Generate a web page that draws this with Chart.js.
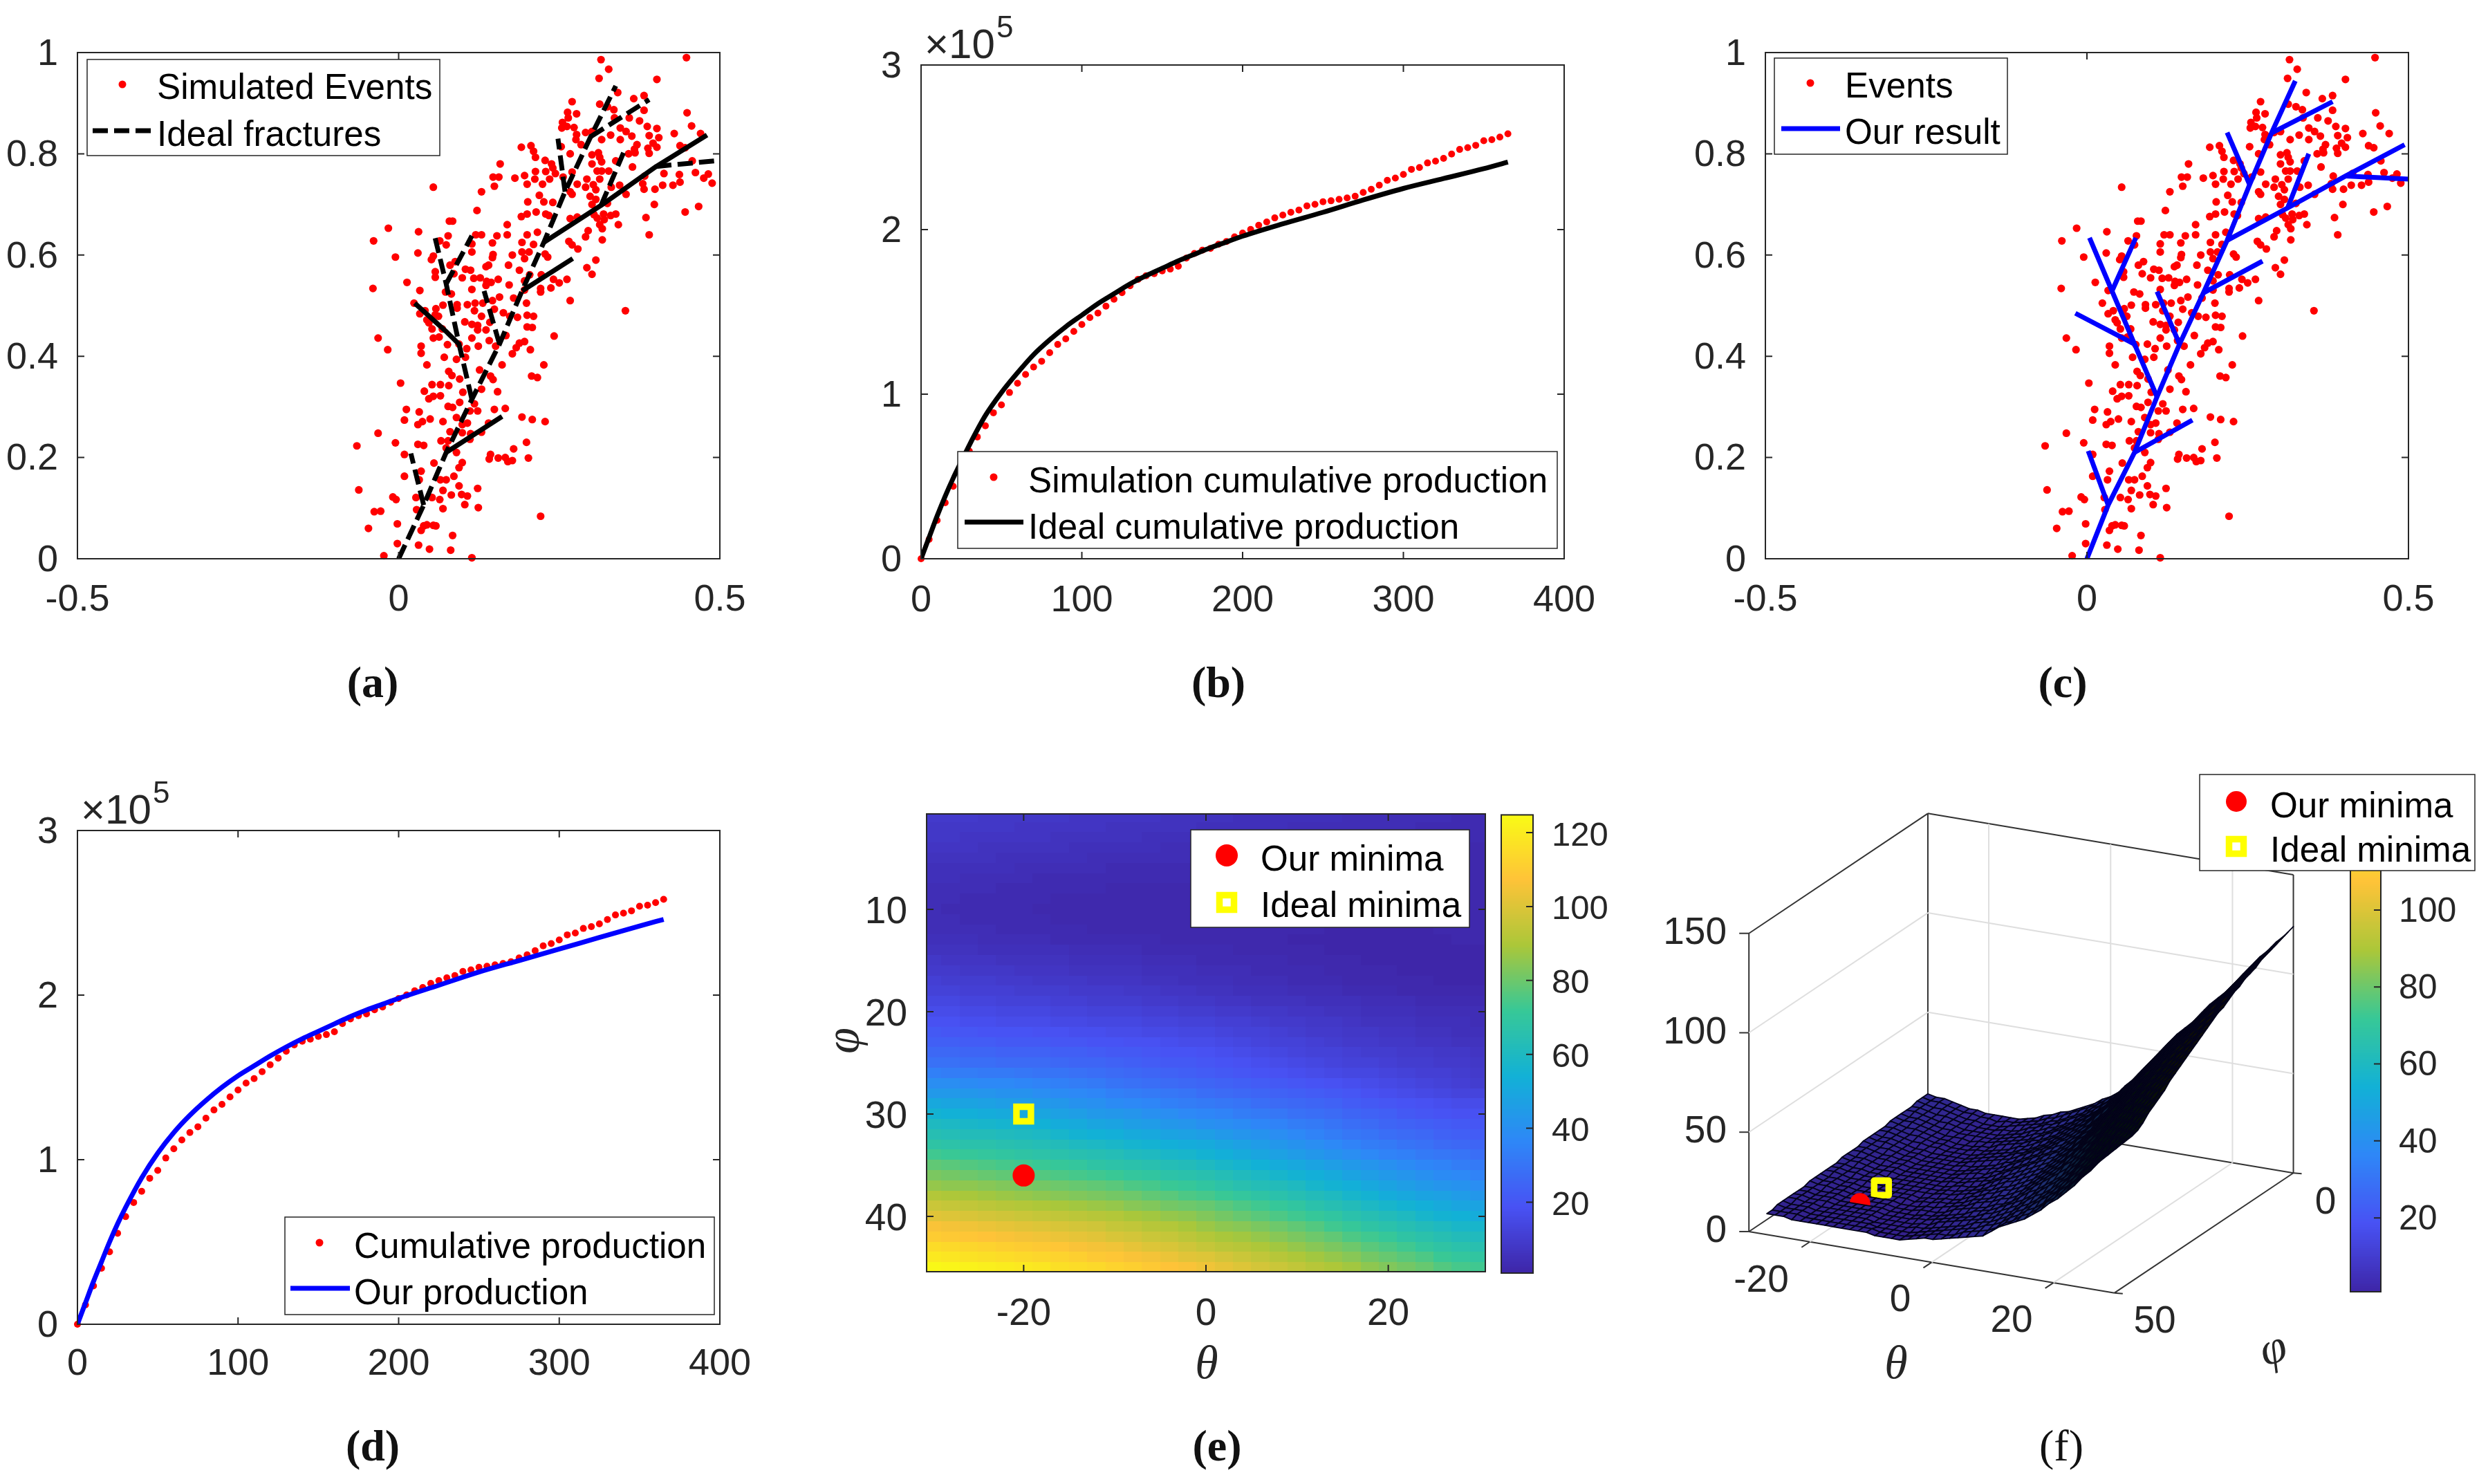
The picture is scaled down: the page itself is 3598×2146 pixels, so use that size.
<!DOCTYPE html>
<html><head><meta charset="utf-8">
<style>html,body{margin:0;padding:0;background:#fff;width:3598px;height:2146px;overflow:hidden}
canvas{position:absolute;pointer-events:none}
.cap{position:absolute;font-family:"Liberation Serif",serif;font-size:64px;font-weight:bold;color:#111;transform:translate(-50%,-50%);white-space:nowrap}</style>
<script src="https://cdn.jsdelivr.net/npm/chart.js@4"></script>
</head><body>
<script>
// ---------- data ----------
const events=[[.315,.986],[.448,.99],[.327,.967],[.312,.949],[.402,.947],[.382,.915],[.366,.909],[.341,.921],[.27,.903],[.313,.898],[.325,.893],[.335,.887],[.382,.886],[.263,.882],[.277,.879],[.449,.881],[.336,.871],[.359,.871],[.375,.865],[.255,.862],[.254,.851],[.264,.871],[.262,.854],[.273,.852],[.456,.855],[.387,.854],[.345,.851],[.402,.85],[.354,.844],[.291,.842],[.301,.844],[.429,.84],[.47,.84],[.277,.838],[.39,.836],[.33,.837],[.363,.835],[.405,.832],[.316,.828],[.276,.828],[.345,.828],[.284,.818],[.396,.821],[.438,.816],[.371,.818],[.191,.813],[.206,.816],[.446,.812],[.402,.813],[.388,.811],[.367,.809],[.253,.814],[.21,.805],[.213,.793],[.267,.8],[.301,.798],[.311,.802],[.358,.8],[.368,.802],[.39,.801],[.313,.793],[.338,.786],[.316,.784],[.228,.787],[.238,.78],[.457,.786],[.158,.78],[.24,.772],[.27,.764],[.301,.78],[.364,.774],[.327,.766],[.316,.766],[.309,.766],[.196,.757],[.213,.765],[.229,.765],[.244,.761],[.181,.752],[.147,.754],[.156,.754],[.235,.75],[.256,.754],[.212,.75],[.293,.75],[.313,.75],[.383,.756],[.413,.761],[.437,.759],[.462,.763],[.482,.76],[.475,.752],[.488,.742],[.2,.74],[.224,.74],[.278,.74],[.291,.734],[.303,.739],[.149,.736],[.344,.738],[.411,.738],[.38,.741],[.427,.738],[.438,.744],[.054,.734],[.267,.725],[.307,.729],[.129,.725],[.382,.73],[.399,.73],[.331,.734],[.219,.718],[.27,.72],[.354,.72],[.298,.716],[.201,.705],[.226,.705],[.24,.704],[.307,.71],[.301,.7],[.398,.7],[.467,.696],[.325,.702],[.122,.688],[.214,.685],[.2,.681],[.191,.676],[.229,.681],[.234,.678],[.446,.685],[.267,.672],[.278,.675],[.304,.68],[.319,.681],[.338,.681],[.33,.678],[.309,.673],[.32,.67],[.385,.674],[.169,.66],[.313,.66],[.342,.66],[.079,.667],[.084,.667],[-.016,.653],[.031,.646],[.216,.645],[.2,.64],[.169,.64],[.39,.64],[.12,.64],[.129,.64],[.153,.638],[.317,.652],[.295,.648],[.291,.636],[.317,.63],[-.039,.628],[.064,.628],[.077,.638],[.074,.62],[.114,.622],[.146,.624],[.192,.625],[.21,.621],[.265,.627],[.27,.62],[.279,.612],[.03,.604],[-.005,.596],[.114,.606],[.147,.601],[.192,.606],[.203,.606],[.228,.602],[.054,.598],[.051,.591],[.088,.587],[.08,.58],[.146,.595],[.177,.6],[.196,.593],[.232,.596],[.104,.572],[.112,.57],[.14,.58],[.136,.577],[.171,.58],[.188,.57],[.293,.575],[.307,.59],[.301,.562],[.057,.567],[.057,.556],[.086,.563],[.099,.555],[.117,.554],[.127,.555],[.155,.552],[.204,.561],[.222,.561],[.241,.552],[.262,.552],[.013,.546],[.137,.548],[.144,.546],[.136,.54],[.172,.541],[.196,.549],[.25,.545],[-.04,.534],[.033,.53],[.073,.527],[.082,.523],[.114,.532],[.221,.534],[.221,.527],[.237,.535],[.157,.517],[.179,.515],[.196,.531],[.267,.51],[.024,.505],[.069,.501],[.091,.502],[.107,.502],[.119,.505],[.131,.505],[.146,.51],[.199,.505],[.058,.494],[.091,.495],[.118,.49],[.149,.493],[.163,.486],[.353,.49],[.033,.484],[.041,.49],[.057,.482],[.062,.479],[.129,.479],[.173,.479],[.185,.477],[.2,.481],[.21,.479],[.044,.472],[.047,.466],[.103,.468],[.142,.467],[.114,.463],[.123,.461],[.2,.458],[.208,.457],[.052,.454],[.068,.454],[.123,.452],[.136,.452],[.054,.436],[.063,.438],[.114,.436],[-.032,.436],[.242,.44],[.141,.431],[.167,.441],[.076,.423],[.094,.424],[.035,.42],[.035,.406],[-.017,.413],[.124,.42],[.106,.415],[.196,.429],[.188,.426],[.183,.417],[.177,.405],[.205,.413],[.151,.42],[.104,.398],[.071,.398],[.09,.394],[.044,.383],[.226,.383],[.161,.383],[.126,.373],[.078,.37],[.083,.362],[.003,.347],[.095,.355],[.143,.361],[.147,.354],[.207,.361],[.216,.358],[.052,.344],[.065,.344],[.078,.342],[.1,.329],[.129,.335],[.04,.331],[.154,.33],[.054,.321],[.065,.322],[.047,.316],[.095,.309],[.118,.306],[.012,.295],[.077,.301],[.084,.299],[.111,.292],[.149,.295],[.166,.297],[.123,.292],[.032,.29],[.192,.28],[.208,.275],[.228,.271],[.009,.274],[.037,.271],[.049,.276],[.069,.271],[.09,.279],[.03,.265],[.099,.265],[.107,.268],[.14,.268],[.08,.251],[.129,.25],[.099,.249],[.112,.247],[-.032,.248],[.111,.236],[.066,.233],[.077,.233],[-.005,.229],[.03,.226],[.039,.224],[-.065,.223],[.074,.219],[.09,.21],[.143,.206],[.009,.206],[.141,.197],[.155,.199],[.166,.2],[.179,.217],[.199,.23],[.202,.199],[.177,.194],[.17,.192],[.099,.19],[.055,.189],[.094,.18],[.035,.173],[.086,.163],[.009,.163],[.032,.156],[.065,.156],[.074,.156],[.094,.144],[.123,.139],[-.062,.136],[.069,.135],[.082,.126],[.098,.127],[.107,.124],[.052,.121],[-.009,.122],[-.004,.117],[.027,.121],[.064,.117],[.103,.107],[.124,.101],[.069,.099],[-.038,.093],[-.028,.094],[.028,.097],[.221,.084],[-.002,.069],[.054,.066],[.058,.065],[.044,.067],[.039,.065],[-.047,.06],[.035,.056],[.084,.046],[-.002,.03],[.031,.027],[.048,.019],[.081,.017],[-.023,.006],[.114,.002]];
const idealDashed=[
 [[0,0],[.039,.106],[.074,.21],[.114,.315],[.157,.424],[.192,.529],[.226,.625],[.259,.725],[.299,.834],[.338,.934]],
 [[.039,.106],[.019,.208]],
 [[.114,.315],[.094,.424],[.074,.543],[.055,.643]],
 [[.074,.543],[.114,.638]],
 [[.157,.424],[.133,.529]],
 [[.315,.698],[.35,.802]],
 [[.401,.775],[.5,.787]],
 [[.259,.725],[.248,.83]],
 [[.299,.834],[.39,.907]]];
const idealSolid=[
 [[.074,.21],[.161,.281]],
 [[.094,.424],[.073,.45],[.025,.505]],
 [[.192,.529],[.271,.593]],
 [[.226,.625],[.315,.698],[.401,.775],[.48,.837]]];
const resultLines=[
 [[0,0],[.033,.106],[.074,.21],[.109,.32],[.144,.424],[.181,.525],[.218,.629],[.253,.739],[.287,.841],[.324,.944]],
 [[.033,.106],[.002,.213]],
 [[.074,.21],[.164,.274]],
 [[.109,.32],[.074,.424],[.039,.529],[.004,.634]],
 [[.074,.424],[-.018,.485]],
 [[.039,.529],[.076,.634]],
 [[.144,.424],[.109,.528]],
 [[.181,.525],[.273,.588]],
 [[.218,.629],[.312,.693],[.402,.756],[.494,.818]],
 [[.312,.693],[.345,.8]],
 [[.402,.756],[.5,.75]],
 [[.253,.739],[.218,.842]],
 [[.287,.841],[.382,.903]]];
const days=[0,5,10,15,20,25,30,35,40,45,50,55,60,65,70,75,80,85,90,95,100,105,110,115,120,125,130,135,140,145,150,155,160,165,170,175,180,185,190,195,200,205,210,215,220,225,230,235,240,245,250,255,260,265,270,275,280,285,290,295,300,305,310,315,320,325,330,335,340,345,350,355,360,365];
const simulated=[0,.118,.233,.34,.44,.553,.654,.74,.808,.887,.935,1.01,1.066,1.12,1.165,1.2,1.252,1.302,1.336,1.381,1.423,1.465,1.493,1.535,1.577,1.617,1.659,1.698,1.72,1.732,1.749,1.76,1.777,1.827,1.855,1.875,1.886,1.911,1.928,1.956,1.979,2.001,2.026,2.046,2.071,2.088,2.105,2.119,2.144,2.153,2.169,2.175,2.184,2.192,2.203,2.226,2.245,2.27,2.299,2.313,2.335,2.366,2.377,2.405,2.416,2.433,2.459,2.487,2.498,2.512,2.54,2.546,2.562,2.582];
const curveDays=[0,5,10,15,20,25,30,40,50,60,70,80,90,100,110,120,130,140,150,160,170,180,190,200,225,250,275,300,325,350,365];
const idealCurve=[0,.13,.26,.38,.49,.59,.69,.87,1.01,1.13,1.24,1.33,1.41,1.48,1.55,1.61,1.67,1.72,1.765,1.81,1.85,1.89,1.925,1.96,2.035,2.105,2.18,2.25,2.31,2.37,2.41];
const ourCurve=[0,.13,.26,.38,.5,.61,.71,.89,1.04,1.165,1.27,1.36,1.44,1.51,1.57,1.63,1.685,1.735,1.78,1.825,1.87,1.91,1.945,1.98,2.06,2.14,2.21,2.28,2.35,2.42,2.46];
const thetaCols=[-30,-28,-26,-24,-22,-20,-18,-16,-14,-12,-10,-8,-6,-4,-2,0,2,4,6,8,10,12,14,16,18,20,22,24,26,28,30];
const phiRows=[1,2,3,4,5,6,7,8,9,10,11,12,13,14,15,16,17,18,19,20,21,22,23,24,25,26,27,28,29,30,31,32,33,34,35,36,37,38,39,40,41,42,43,44,45];
const loss=[
[9,9,9,8,8,8,8,8,7,7,7,7,7,6,6,6,6,5,5,5,5,5,5,4,4,4,4,4,4,3,3],
[8,8,8,8,8,7,7,7,7,7,6,6,6,6,6,5,5,5,5,5,4,4,4,4,4,4,4,3,3,3,3],
[8,8,7,7,7,7,7,6,6,6,6,6,5,5,5,5,5,4,4,4,4,4,4,3,3,3,3,3,3,3,3],
[7,7,7,6,6,6,6,6,5,5,5,5,5,4,4,4,4,4,4,3,3,3,3,3,3,3,3,3,3,3,2],
[6,6,6,6,5,5,5,5,5,4,4,4,4,4,4,3,3,3,3,3,3,3,3,3,3,3,2,2,2,2,2],
[5,5,5,5,5,4,4,4,4,4,3,3,3,3,3,3,3,3,3,3,2,2,2,2,2,2,2,2,2,2,2],
[5,5,4,4,4,4,3,3,3,3,3,3,3,3,3,3,3,2,2,2,2,2,2,2,2,2,2,2,2,2,2],
[4,4,4,4,3,3,3,3,3,3,2,2,2,2,2,2,2,2,2,2,2,2,2,2,2,2,2,2,2,2,2],
[4,4,3,3,3,3,3,2,2,2,2,2,2,2,2,2,2,2,2,2,2,2,2,2,2,2,2,2,2,2,2],
[4,3,3,3,3,3,2,2,2,2,2,2,2,2,2,2,2,2,2,2,2,2,2,2,2,2,2,2,2,2,2],
[4,4,3,3,3,3,3,2,2,2,2,2,2,2,2,2,2,2,2,2,2,2,2,2,2,2,2,2,2,2,2],
[4,4,4,4,3,3,3,3,3,2,2,2,2,2,2,2,2,2,2,2,2,2,1,1,1,1,1,1,2,2,2],
[5,5,5,4,4,4,4,3,3,3,3,3,3,2,2,2,2,2,2,2,1,1,1,1,1,1,1,1,1,2,2],
[6,6,6,5,5,5,5,5,4,4,4,4,3,3,3,3,3,2,2,2,2,2,1,1,1,1,1,1,1,1,1],
[8,7,7,7,6,6,6,6,5,5,5,5,4,4,4,3,3,3,3,3,2,2,2,2,1,1,1,1,1,1,1],
[9,9,8,8,8,7,7,7,6,6,6,6,5,5,5,4,4,4,3,3,3,3,2,2,2,2,1,1,1,1,1],
[11,10,10,10,9,9,8,8,8,7,7,7,6,6,5,5,5,4,4,4,3,3,3,2,2,2,2,2,1,1,1],
[12,12,11,11,11,10,10,10,9,9,9,8,8,7,7,6,6,5,5,5,4,4,4,3,3,3,2,2,2,2,2],
[14,14,13,13,12,12,12,11,11,10,10,10,9,9,8,8,7,7,6,6,6,5,5,5,4,4,4,3,3,3,3],
[16,16,15,15,14,14,14,13,13,12,12,12,11,11,10,10,9,9,8,8,7,7,6,6,5,5,5,4,4,4,4],
[18,18,17,17,16,16,16,15,15,14,14,14,13,13,12,12,11,11,10,9,9,8,8,7,6,6,6,5,5,5,4],
[21,20,20,19,19,19,18,18,17,17,16,16,15,15,14,14,13,12,12,11,10,9,9,8,8,7,7,6,6,5,5],
[23,23,22,22,21,21,21,20,20,19,19,18,18,17,16,16,15,14,13,12,12,11,10,9,9,8,8,7,7,6,6],
[26,26,25,25,24,24,24,23,23,22,21,21,20,19,19,18,17,16,15,14,13,12,12,11,10,10,9,9,8,8,7],
[29,29,28,28,27,27,27,26,25,25,24,23,22,21,21,20,19,18,17,16,15,14,13,12,12,11,10,10,9,9,8],
[34,33,33,32,32,31,30,30,29,28,27,26,25,24,23,22,21,20,19,18,17,16,15,14,14,13,12,11,11,10,9],
[39,39,38,37,37,36,35,34,33,32,30,29,28,27,26,25,24,23,22,21,20,19,18,17,16,15,14,13,12,11,10],
[44,44,43,42,41,41,39,38,37,36,34,33,32,31,30,28,27,26,25,24,23,22,21,20,18,17,16,15,14,13,13],
[50,49,48,47,46,45,44,43,41,40,38,37,36,34,33,32,31,30,28,27,26,25,24,22,21,20,19,18,17,16,16],
[55,54,53,52,51,50,49,47,46,44,43,42,40,39,37,36,35,33,32,31,29,28,27,25,24,23,21,20,19,18,18],
[60,59,58,57,56,55,54,52,51,49,48,46,45,43,42,40,39,38,36,35,33,32,30,28,27,25,24,23,22,21,20],
[64,63,62,62,61,60,59,57,55,54,53,51,50,48,47,46,44,42,41,39,37,35,33,31,30,28,27,26,24,23,22],
[68,67,66,66,65,64,63,62,60,59,58,56,55,53,52,51,49,47,45,43,41,39,37,35,33,32,30,29,27,26,25],
[73,72,71,70,69,68,67,66,65,64,63,61,60,58,57,55,53,51,49,47,45,43,41,39,37,35,34,32,31,30,28],
[78,77,76,75,74,73,72,71,70,68,67,66,65,63,62,60,58,56,54,52,50,48,46,44,42,40,38,36,35,33,32],
[82,81,80,79,78,77,76,75,74,73,72,70,69,67,66,65,63,61,59,57,55,53,51,48,46,44,42,40,38,37,35],
[86,85,85,84,83,82,81,80,79,78,77,75,74,72,71,69,67,65,63,62,60,57,55,53,50,48,46,44,42,41,39],
[91,90,89,88,87,86,85,84,83,82,81,80,78,77,75,74,72,70,68,66,64,62,60,57,55,52,50,48,47,45,43],
[96,95,94,93,92,91,90,89,88,87,86,84,83,81,80,79,77,75,73,71,69,66,64,62,59,57,55,53,51,49,48],
[101,100,99,98,97,96,95,94,93,92,91,89,88,86,85,83,81,79,77,75,73,71,69,66,64,62,60,57,55,54,52],
[106,105,104,103,102,101,100,99,98,97,95,94,92,91,89,87,85,84,82,80,78,76,73,71,68,66,64,62,60,58,57],
[110,109,108,107,106,105,104,103,102,101,99,98,96,95,93,91,89,88,86,84,82,80,78,75,73,71,68,66,64,62,61],
[115,114,113,112,111,110,109,108,106,105,104,102,100,99,97,95,93,92,90,88,86,84,82,80,77,75,73,70,68,66,65],
[119,118,117,116,115,114,113,112,111,109,108,106,105,103,101,100,98,96,94,92,90,88,86,84,81,79,77,75,72,70,69],
[124,123,122,121,120,119,118,116,115,114,112,111,109,107,106,104,102,100,98,96,94,92,90,88,85,83,81,79,76,74,73]];
const ourMinima=[-20,36];
const idealMinima=[-20,30];
const colorbarTicks=[20,40,60,80,100,120];
const parulaStops=[[62,38,168],[72,82,244],[46,135,247],[18,177,214],[55,200,151],[171,199,57],[254,195,56],[249,251,21]];

// ---------- helpers ----------
const INK='#262626',SANS='"Liberation Sans",Arial,sans-serif',SERIF='"Liberation Serif",serif';
const CMIN=.8,CMAX=124.8;
function parulaRGB(v){
  const t=Math.min(1,Math.max(0,(v-CMIN)/(CMAX-CMIN)))*(parulaStops.length-1);
  const i=Math.min(parulaStops.length-2,Math.floor(t)),f=t-i,a=parulaStops[i],b=parulaStops[i+1];
  return a.map((c,k)=>c+(b[k]-c)*f);
}
function parula(v,shade){const s=shade===undefined?1:shade;return `rgb(${parulaRGB(v).map(c=>Math.round(c*s)).join(',')})`;}
function axis(position,min,max,ticks,extra={}){
  const horiz=position==='bottom';
  return Object.assign({type:'linear',position,min,max,
    grid:{display:false},border:{display:false},
    ticks:{color:INK,font:{family:SANS,size:extra.size||54},padding:extra.pad!==undefined?extra.pad:(horiz?20:20),labelOffset:horiz?0:(extra.shift!==undefined?extra.shift:3),autoSkip:false,maxRotation:0,minRotation:0,callback:v=>String(v)},
    afterBuildTicks:s=>{s.ticks=ticks.map(value=>({value}));}},extra.reverse?{reverse:true}:{});
}
function pts(arr){return arr.map(p=>({x:p[0],y:p[1]}));}
function polyDatasets(lines,color,width,dash){
  return lines.map(l=>({data:pts(l),showLine:true,pointRadius:0,borderColor:color,borderWidth:width,borderDash:dash||[],tension:0,clip:true,borderCapStyle:'butt',borderJoinStyle:'round'}));
}
function dots(data,r){return {data,showLine:false,pointRadius:r,pointBackgroundColor:'#ff0000',pointBorderWidth:0,clip:false};}
const frame={id:'frame',afterDatasetsDraw(ch,a,o){
  if(!o.on)return;
  const c=ch.ctx,A=ch.chartArea,L=10;c.save();c.strokeStyle=INK;c.lineWidth=2;
  c.strokeRect(A.left,A.top,A.width,A.height);c.beginPath();
  (o.tx||[]).forEach(v=>{const x=ch.scales.x.getPixelForValue(v);c.moveTo(x,A.bottom);c.lineTo(x,A.bottom-L);c.moveTo(x,A.top);c.lineTo(x,A.top+L);});
  (o.ty||[]).forEach(v=>{const y=ch.scales.y.getPixelForValue(v);c.moveTo(A.right,y);c.lineTo(A.right-L,y);if(!o.rightOnly){c.moveTo(A.left,y);c.lineTo(A.left+L,y);}});
  c.stroke();c.restore();
}};
function sample(c,m,x,y){
  if(m.kind==='dot'){c.fillStyle=m.color;c.beginPath();c.arc(x,y,m.r,0,7);c.fill();}
  if(m.kind==='square'){c.strokeStyle=m.color;c.lineWidth=m.w;c.strokeRect(x-m.s/2,y-m.s/2,m.s,m.s);}
  if(m.kind==='line'){c.strokeStyle=m.color;c.lineWidth=m.w;c.setLineDash(m.dash||[]);c.beginPath();c.moveTo(m.x0,y);c.lineTo(m.x1,y);c.stroke();c.setLineDash([]);}
}
const notes={id:'notes',afterDraw(ch,a,o){
  const c=ch.ctx;c.save();c.translate(-ch.$rect.x,-ch.$rect.y);
  if(o.legend){const b=o.legend.box;
    c.fillStyle='#fff';c.fillRect(b[0],b[1],b[2],b[3]);c.strokeStyle=INK;c.lineWidth=1.5;c.strokeRect(b[0],b[1],b[2],b[3]);
    o.legend.items.forEach(it=>{sample(c,it.m,it.mx,it.my);
      c.fillStyle='#000';c.font=`${o.legend.size||51.2}px ${SANS}`;c.textBaseline='middle';c.textAlign='left';c.fillText(it.text,it.tx-2,it.ty+4);});}
  (o.texts||[]).forEach(t=>{c.save();c.translate(t.x,t.y);if(t.rot)c.rotate(t.rot);c.fillStyle=INK;c.font=t.font;c.textAlign=t.align||'center';c.textBaseline=t.base||'middle';c.fillText(t.text,0,0);c.restore();});
  c.restore();
}};
function make(rect,plot,config,plugins){
  const cv=document.createElement('canvas');cv.width=rect.w;cv.height=rect.h;cv.style.left=rect.x+'px';cv.style.top=rect.y+'px';
  cv.style.width=rect.w+'px';cv.style.height=rect.h+'px';document.body.appendChild(cv);
  const pad={left:plot.x0-rect.x,top:plot.y0-rect.y,right:rect.x+rect.w-plot.x1,bottom:rect.y+rect.h-plot.y1};
  Object.values(config.options.scales).forEach(s=>{
    if(s.display===false)return;
    const side=s.position,room=pad[side];pad[side]=0;
    s.afterFit=k=>{if(side==='bottom')k.height=room;else k.width=room;};
  });
  config.options=Object.assign({responsive:false,animation:false,devicePixelRatio:1,events:[],layout:{padding:pad}},config.options);
  const np=config.options.plugins||{};
  config.options.plugins=Object.assign({legend:{display:false},tooltip:{enabled:false},title:{display:false}},np);
  config.plugins=[{id:'rectTag',beforeInit(ch){ch.$rect=rect;}},frame,notes].concat(plugins||[]);
  return new Chart(cv,config);
}
function timesTen(x,y){return [{text:'×10',x,y,font:`60px ${SANS}`,align:'left',base:'alphabetic'},{text:'5',x:x+104,y:y-30,font:`44px ${SANS}`,align:'left',base:'alphabetic'}];}

// ---------- (a) ----------
const unitX=[-.5,0,.5],unitY=[0,.2,.4,.6,.8,1];
make({x:0,y:0,w:1150,h:960},{x0:112,y0:76,x1:1041,y1:808},{type:'scatter',
 data:{datasets:[...polyDatasets(idealSolid,'#000',7),...polyDatasets(idealDashed,'#000',7,[22,9]),dots(pts(events),5.6)]},
 options:{scales:{x:axis('bottom',-.5,.5,unitX),y:axis('left',0,1,unitY)},
 plugins:{frame:{on:true,tx:unitX,ty:unitY},notes:{legend:{box:[126,86,510,139],items:[
  {text:'Simulated Events',tx:229,ty:125,mx:177,my:122,m:{kind:'dot',color:'#f00',r:5.5}},
  {text:'Ideal fractures',tx:229,ty:193,mx:0,my:189,m:{kind:'line',color:'#000',w:7,dash:[22,9],x0:134,x1:220}}]}}}}});
// ---------- (b) ----------
const prodX=[0,100,200,300,400],prodY=[0,1,2,3];
make({x:1180,y:0,w:1200,h:960},{x0:1332,y0:94,x1:2262,y1:808},{type:'scatter',
 data:{datasets:[{data:curveDays.map((x,i)=>({x,y:idealCurve[i]})),showLine:true,pointRadius:0,borderColor:'#000',borderWidth:7,cubicInterpolationMode:'monotone'},dots(days.map((x,i)=>({x,y:simulated[i]})),5)]},
 options:{scales:{x:axis('bottom',0,400,prodX,{pad:21}),y:axis('left',0,3,prodY)},
 plugins:{frame:{on:true,tx:prodX,ty:prodY},notes:{texts:timesTen(1337,84),legend:{box:[1385,653,867,140],items:[
  {text:'Simulation cumulative production',tx:1489,ty:694,mx:1437,my:690,m:{kind:'dot',color:'#f00',r:5.5}},
  {text:'Ideal cumulative production',tx:1489,ty:761,mx:0,my:755,m:{kind:'line',color:'#000',w:7,x0:1395,x1:1480}}]}}}}});
// ---------- (c) ----------
make({x:2420,y:0,w:1178,h:960},{x0:2553,y0:76,x1:3483,y1:808},{type:'scatter',
 data:{datasets:[...polyDatasets(resultLines,'#0000ff',7),dots(pts(events),5.6)]},
 options:{scales:{x:axis('bottom',-.5,.5,unitX),y:axis('left',0,1,unitY)},
 plugins:{frame:{on:true,tx:unitX,ty:unitY},notes:{legend:{box:[2566,84,337,139],items:[
  {text:'Events',tx:2670,ty:123,mx:2618,my:120,m:{kind:'dot',color:'#f00',r:5.5}},
  {text:'Our result',tx:2670,ty:190,mx:0,my:186,m:{kind:'line',color:'#00f',w:7,x0:2576,x1:2661}}]}}}}});
// ---------- (d) ----------
make({x:0,y:1100,w:1150,h:960},{x0:112,y0:1201,x1:1041,y1:1915},{type:'scatter',
 data:{datasets:[{data:curveDays.map((x,i)=>({x,y:ourCurve[i]})),showLine:true,pointRadius:0,borderColor:'#0000ff',borderWidth:7,cubicInterpolationMode:'monotone'},dots(days.map((x,i)=>({x,y:simulated[i]})),5)]},
 options:{scales:{x:axis('bottom',0,400,prodX,{pad:18}),y:axis('left',0,3,prodY)},
 plugins:{frame:{on:true,tx:prodX,ty:prodY},notes:{texts:timesTen(117,1191),legend:{box:[412,1760,621,141],items:[
  {text:'Cumulative production',tx:514,ty:1801,mx:462,my:1797,m:{kind:'dot',color:'#f00',r:5.5}},
  {text:'Our production',tx:514,ty:1868,mx:0,my:1863,m:{kind:'line',color:'#00f',w:7,x0:420,x1:506}}]}}}}});
// ---------- (e) ----------
const heatmap={id:'heatmap',beforeDatasetsDraw(ch){
  const c=ch.ctx,A=ch.chartArea,X=ch.scales.x,Y=ch.scales.y;c.save();c.beginPath();c.rect(A.left,A.top,A.width,A.height);c.clip();
  phiRows.forEach((p,j)=>thetaCols.forEach((t,i)=>{
    const x0=Math.floor(X.getPixelForValue(i===0?t-2:t-1)),x1=Math.ceil(X.getPixelForValue(i===thetaCols.length-1?t+2:t+1));
    const y0=Math.floor(Y.getPixelForValue(j===0?p-1:p-.5)),y1=Math.ceil(Y.getPixelForValue(j===phiRows.length-1?p+1:p+.5));
    c.fillStyle=parula(loss[j][i]);c.fillRect(x0,y0,x1-x0,y1-y0);}));
  c.restore();
}};
const eX=[-20,0,20],eY=[10,20,30,40];
make({x:1180,y:1100,w:1060,h:950},{x0:1340,y0:1177,x1:2148,y1:1839},{type:'scatter',
 data:{datasets:[
  {data:[{x:ourMinima[0],y:ourMinima[1]}],showLine:false,pointRadius:16,pointBackgroundColor:'#f00',pointBorderWidth:0},
  {data:[{x:idealMinima[0],y:idealMinima[1]}],showLine:false,pointStyle:'rect',pointRadius:14.8,pointBackgroundColor:'rgba(0,0,0,0)',pointBorderColor:'#ffff00',pointBorderWidth:9.5}]},
 options:{scales:{x:axis('bottom',-30.65,30.65,eX,{size:55,pad:21}),y:axis('left',.68,45.4,eY,{reverse:true,size:55,shift:5})},
 plugins:{frame:{on:true,tx:eX,ty:eY},notes:{
  texts:[{text:'θ',x:1745,y:1975,font:`italic 68px ${SERIF}`},{text:'φ',x:1223,y:1505,rot:-Math.PI/2,font:`italic 68px ${SERIF}`}],
  legend:{box:[1722,1200,403,141],items:[
  {text:'Our minima',tx:1825,ty:1241,mx:1774,my:1237,m:{kind:'dot',color:'#f00',r:16}},
  {text:'Ideal minima',tx:1825,ty:1308,mx:1774,my:1305,m:{kind:'square',color:'#ff0',s:21,w:9.5}}]}}}}},[heatmap]);
const bar={id:'bar',beforeDatasetsDraw(ch){
  const c=ch.ctx,A=ch.chartArea,Y=ch.scales.y;
  for(let v=CMIN;v<CMAX;v+=.5){const y0=Y.getPixelForValue(v+.5),y1=Y.getPixelForValue(v);c.fillStyle=parula(v);c.fillRect(A.left,Math.floor(y0),A.width,Math.ceil(y1)-Math.floor(y0));}
}};
function colorbar(rect,plot,size,pad,shift){
  make(rect,plot,{type:'scatter',data:{datasets:[{data:[]}]},
   options:{scales:{x:{display:false,type:'linear',min:0,max:1},y:axis('right',CMIN,CMAX,colorbarTicks,{size,pad,shift})},
   plugins:{frame:{on:true,ty:colorbarTicks,rightOnly:true}}}},[bar]);
}
colorbar({x:2150,y:1130,w:200,h:760},{x0:2171,y0:1177,x1:2217,y1:1841},49,19,5);
colorbar({x:3380,y:1130,w:218,h:790},{x0:3399,y0:1175,x1:3443,y1:1868},50,18,3);
// ---------- (f) ----------
const VIEW={ox:2793.5,oy:1825.3,tx:8.81,ty:1.478,px:5.175,py:-3.467,zy:2.875};
function project(t,p,z){return {x:VIEW.ox+VIEW.tx*t+VIEW.px*(50-p),y:VIEW.oy+VIEW.ty*t+VIEW.py*(50-p)-VIEW.zy*z};}
function seg(a,b,color,w){return {data:[project(...a),project(...b)],showLine:true,pointRadius:0,borderColor:color,borderWidth:w,clip:false};}
const zTicks=[0,50,100,150],thTicks=[-20,0,20],phTicks=[0,50],zMax=150,tLo=-30,tHi=30;
const GRID='#dedede',LINE='#333';
const fLines=[];
[50,100].forEach(z=>{fLines.push(seg([tLo,50,z],[tLo,0,z],GRID,2),seg([tLo,0,z],[tHi,0,z],GRID,2));});
thTicks.forEach(t=>{fLines.push(seg([t,0,0],[t,0,zMax],GRID,2),seg([t,0,0],[t,50,0],GRID,2));});
fLines.push(seg([tLo,50,0],[tHi,50,0],LINE,2),seg([tHi,50,0],[tHi,0,0],LINE,2),seg([tLo,50,0],[tLo,50,zMax],LINE,2),
 seg([tLo,50,zMax],[tLo,0,zMax],LINE,2),seg([tLo,0,zMax],[tHi,0,zMax],LINE,2),seg([tHi,0,zMax],[tHi,0,0],LINE,2),seg([tLo,0,zMax],[tLo,0,0],LINE,2),seg([tLo,0,0],[tHi,0,0],LINE,2),seg([tLo,0,0],[tLo,50,0],LINE,2));
function off(base,dx,dy){const a=project(...base);return {data:[a,{x:a.x+dx,y:a.y+dy}],showLine:true,pointRadius:0,borderColor:LINE,borderWidth:2,clip:false};}
zTicks.forEach(z=>fLines.push(off([tLo,50,z],-14,0)));
thTicks.forEach(t=>fLines.push(off([t,50,0],-12,8)));
phTicks.forEach(p=>fLines.push(off([tHi,p,0],12,1)));
const surface={id:'surface',afterDatasetsDraw(ch){
  const c=ch.ctx,X=ch.scales.x,Y=ch.scales.y;
  const P=(t,p,z)=>{const q=project(t,p,z);return [X.getPixelForValue(q.x),Y.getPixelForValue(q.y)];};
  const tOf=j=>tLo+(phiRows[j]-1)*60/44,pOf=i=>(thetaCols[i]+30)*.75;
  const marks=[{p:idealMinima[1],t:idealMinima[0],z:3,kind:'s',reveal:idealMinima[1]+3},{p:ourMinima[1],t:ourMinima[0],z:2.4,kind:'c',reveal:ourMinima[1]}];
  c.save();c.lineJoin='round';
  for(let i=0;i<thetaCols.length-1;i++){
    marks.forEach(m=>{if(!m.done&&pOf(i)>=m.reveal){m.done=1;const q=P(m.t,m.p,m.z);
      if(m.kind==='c'){c.fillStyle='#f00';c.beginPath();c.arc(q[0],q[1],15,0,7);c.fill();}
      else{c.strokeStyle='#ff0';c.lineWidth=9.5;c.strokeRect(q[0]-10.5,q[1]-10.5,21,21);}}});
    for(let j=0;j<phiRows.length-1;j++){
      const a=P(tOf(j),pOf(i),loss[j][i]),b=P(tOf(j+1),pOf(i),loss[j+1][i]),d=P(tOf(j+1),pOf(i+1),loss[j+1][i+1]),e=P(tOf(j),pOf(i+1),loss[j][i+1]);
      const z=(loss[j][i]+loss[j+1][i+1])/2;
      c.beginPath();c.moveTo(...a);c.lineTo(...b);c.lineTo(...d);c.lineTo(...e);c.closePath();
      c.fillStyle=parula(z,Math.max(.08,.85-.8*Math.min(1,z/50)));c.fill();c.strokeStyle='#04041a';c.lineWidth=1.8;c.stroke();
    }
  }
  c.restore();
}};
const fRect={x:2400,y:1100,w:1198,h:920};
const fFont=`55px ${SANS}`;
make(fRect,{x0:2400,y0:1100,x1:3598,y1:2020},{type:'scatter',
 data:{datasets:fLines},
 options:{scales:{x:{display:false,type:'linear',min:2400,max:3598},y:{display:false,type:'linear',min:1100,max:2020,reverse:true}},
 plugins:{notes:{
  texts:[...zTicks.map(z=>({text:String(z),x:2497,y:project(tLo,50,z).y,font:fFont,align:'right'})),
   {text:'-20',x:2547,y:1853,font:fFont},{text:'0',x:2748,y:1881,font:fFont},{text:'20',x:2909,y:1911,font:fFont},
   {text:'0',x:3363,y:1740,font:fFont},{text:'50',x:3116,y:1912,font:fFont},
   {text:'θ',x:2742,y:1975,font:`italic 68px ${SERIF}`},{text:'φ',x:3288,y:1953,rot:-.3,font:`italic 68px ${SERIF}`}],
  legend:{box:[3181,1120,398,139],items:[
  {text:'Our minima',tx:3285,ty:1164,mx:3234,my:1159,m:{kind:'dot',color:'#f00',r:15}},
  {text:'Ideal minima',tx:3285,ty:1228,mx:3234,my:1224,m:{kind:'square',color:'#ff0',s:21,w:9.5}}]}}}}},[surface]);
// ---------- captions ----------
[['(a)',539,987,700],['(b)',1762,987,700],['(c)',2983,987,700],['(d)',539,2091,700],['(e)',1760,2091,700],['(f)',2981,2091,400]].forEach(([t,x,y,w])=>{
  const d=document.createElement('div');d.className='cap';d.textContent=t;d.style.left=x+'px';d.style.top=y+'px';d.style.fontWeight=w;document.body.appendChild(d);});
</script>
</body></html>
